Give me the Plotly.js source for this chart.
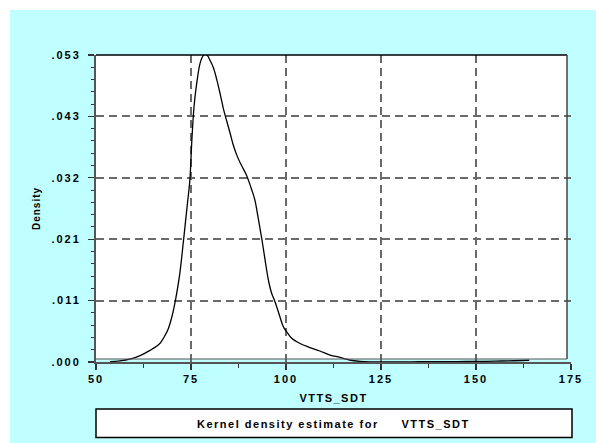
<!DOCTYPE html>
<html><head><meta charset="utf-8">
<script src="https://cdn.plot.ly/plotly-3.0.1.min.js"></script>
<style>
html,body{margin:0;padding:0;background:#fff;}
#chart .xtick text, #chart .ytick text{letter-spacing:2px;}
#chart .g-xtitle text{letter-spacing:1.5px;}
#chart .g-ytitle text{letter-spacing:1px;}
#chart .annotation-text{letter-spacing:1.5px;}
</style></head><body>
<div id="chart" style="width:596px;height:443px"></div>
<script>
// Kernel density estimate of VTTS_SDT
const vttsX = [53.7, 56.3, 58.9, 61.6, 64.2, 66.8, 68, 69, 70, 71, 72, 73, 74, 74.7, 75.2, 75.8, 76.5, 77.4, 78.2, 78.7, 79.3, 80, 80.9, 81.8, 82.7, 83.5, 84.4, 85.3, 86.1, 87, 88, 88.8, 89.5, 90.1, 91, 91.8, 92.7, 93.6, 94.5, 95.35, 96.2, 97.1, 98.4, 99.3, 100.2, 101.5, 103.7, 106.3, 108.9, 111.6, 114.2, 117, 119.5, 122, 126, 130, 135, 140, 145, 150, 155, 160, 164];
const density = [0.00005, 0.0002, 0.0005, 0.0011, 0.0020, 0.0032, 0.0044, 0.0057, 0.0079, 0.0110, 0.0150, 0.0208, 0.0270, 0.0314, 0.0380, 0.0441, 0.0481, 0.0516, 0.0529, 0.0531, 0.0529, 0.0521, 0.0508, 0.0487, 0.0462, 0.0438, 0.0416, 0.0395, 0.0375, 0.0358, 0.0343, 0.0333, 0.0324, 0.0314, 0.0297, 0.0280, 0.0248, 0.0214, 0.0176, 0.0142, 0.0119, 0.0104, 0.0078, 0.0061, 0.0052, 0.0041, 0.0032, 0.0025, 0.0019, 0.0012, 0.0008, 0.0003, 0.0001, 0.00002, 0.00002, 0.00003, 0.00004, 0.00005, 0.00007, 0.0001, 0.00015, 0.00022, 0.0003];

const yTickVals = [0, 0.0106, 0.0212, 0.0318, 0.0424, 0.053];
const yTickText = ['.000', '.011', '.021', '.032', '.043', '.053'];
const xTickVals = [50, 75, 100, 125, 150, 175];
const xTickText = ['50', '75', '100', '125', '150', '175'];
const xTitle = 'VTTS_SDT';
const yTitle = 'Density';
const legendText = 'Kernel density estimate for\u00a0\u00a0\u00a0\u00a0\u00a0VTTS_SDT';

// page geometry (pixels)
const W = 596, H = 443;
const L = 96, R = 571, T = 55, B = 362;
const fx = px => (px - L) / (R - L);
const fy = py => (B - py) / (B - T);

const cyan = '#C0FFFF';
const font = {family: '"Liberation Sans", Arial, sans-serif', size: 11, color: '#000', weight: 'bold'};

const shapes = [
  // white outer strips
  {type: 'rect', xref: 'paper', yref: 'paper', x0: fx(0), x1: fx(10), y0: fy(H), y1: fy(0), fillcolor: '#fff', line: {width: 0}, layer: 'below'},
  {type: 'rect', xref: 'paper', yref: 'paper', x0: fx(0), x1: fx(W), y0: fy(10), y1: fy(0), fillcolor: '#fff', line: {width: 0}, layer: 'below'},
  // cyan gaps between frame and axes
  {type: 'rect', xref: 'paper', yref: 'paper', x0: fx(L), x1: fx(R), y0: fy(B), y1: fy(359), fillcolor: cyan, line: {width: 0}, layer: 'below'},
  {type: 'rect', xref: 'paper', yref: 'paper', x0: fx(567), x1: fx(R), y0: fy(B), y1: fy(T), fillcolor: cyan, line: {width: 0}, layer: 'below'},
  // frame
  {type: 'line', xref: 'paper', yref: 'paper', x0: fx(L), x1: fx(567), y0: 1, y1: 1, line: {color: '#000', width: 1.5}},
  {type: 'line', xref: 'paper', yref: 'paper', x0: fx(567), x1: fx(567), y0: 1, y1: fy(359), line: {color: '#444', width: 1.5}},
  {type: 'line', xref: 'paper', yref: 'paper', x0: fx(L), x1: fx(567), y0: fy(359), y1: fy(359), line: {color: '#555', width: 1.2}},
  // legend box
  {type: 'rect', xref: 'paper', yref: 'paper', x0: fx(L), x1: fx(572), y0: fy(437.5), y1: fy(409), fillcolor: '#fff', line: {color: '#000', width: 1.5}}
];

const trace = {
  x: vttsX, y: density, type: 'scatter', mode: 'lines',
  line: {color: '#000', width: 1.3, shape: 'spline', smoothing: 1},
  hoverinfo: 'skip', cliponaxis: false
};

const layout = {
  width: W, height: H,
  margin: {l: L, r: W - R, t: T, b: H - B, pad: 0},
  paper_bgcolor: cyan, plot_bgcolor: '#fff',
  showlegend: false,
  font: font,
  xaxis: {
    range: [50, 175], tickmode: 'array', tickvals: xTickVals, ticktext: xTickText,
    showline: true, linecolor: '#555', linewidth: 1.5,
    ticks: 'outside', ticklen: 6, tickwidth: 1.2, tickcolor: '#333',
    minor: {tickmode: 'linear', tick0: 50, dtick: 12.5, ticks: 'outside', ticklen: 4, tickwidth: 1, tickcolor: '#333', showgrid: false},
    showgrid: true, gridcolor: '#6a6a6a', gridwidth: 2, griddash: '8px,5px',
    zeroline: false, tickfont: font, fixedrange: true,
    title: {text: xTitle, font: font, standoff: 10}, automargin: false
  },
  yaxis: {
    range: [0, 0.053], tickmode: 'array', tickvals: yTickVals, ticktext: yTickText,
    showline: true, linecolor: '#555', linewidth: 2,
    ticks: 'outside', ticklen: 6, tickwidth: 1.2, tickcolor: '#333',
    minor: {tickmode: 'linear', tick0: 0, dtick: 0.00212, ticks: 'outside', ticklen: 3, tickwidth: 1, tickcolor: '#333', showgrid: false},
    showgrid: true, gridcolor: '#6a6a6a', gridwidth: 2, griddash: '8px,5px',
    zeroline: false, tickfont: font, ticklabelstandoff: 5, fixedrange: true,
    title: {text: yTitle, font: Object.assign({}, font, {size: 10}), standoff: 17}, automargin: false
  },
  shapes: shapes,
  annotations: [{
    xref: 'paper', yref: 'paper', x: fx(333.5), y: fy(423.5), xanchor: 'center', yanchor: 'middle',
    text: legendText, showarrow: false, font: font
  }]
};

Plotly.newPlot('chart', [trace], layout, {displayModeBar: false, staticPlot: true});
</script>
</body></html>
